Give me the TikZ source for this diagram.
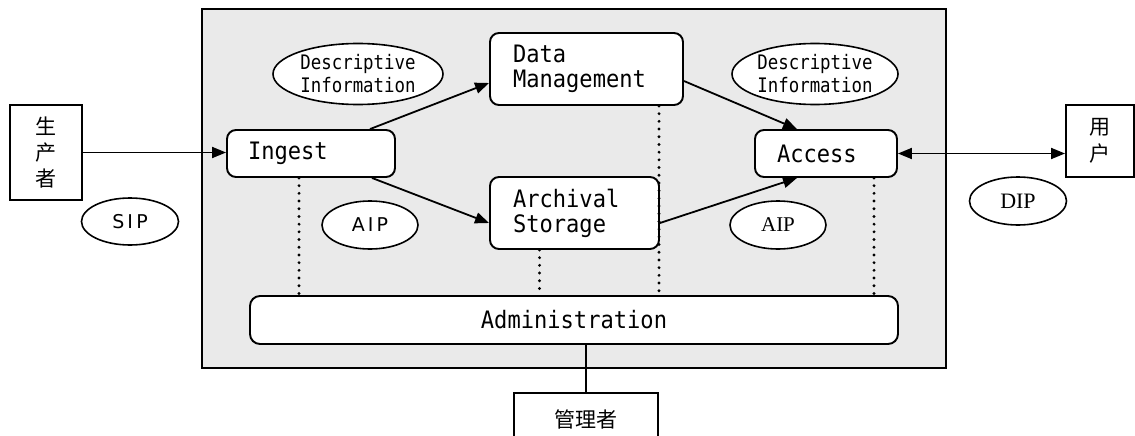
\documentclass[tikz,border=0pt]{standalone}
\usepackage{fontspec}
\newfontfamily\cjk{Noto Sans CJK SC}
\newfontfamily\monof[FakeStretch=0.92]{DejaVu Sans Mono}
\newfontfamily\monon[FakeStretch=0.87]{DejaVu Sans Mono}
\newfontfamily\sansf{DejaVu Sans}
\newfontfamily\seriff{Liberation Serif}
\usetikzlibrary{arrows.meta,shapes.geometric,calc}
\definecolor{panelgray}{RGB}{234,234,234}
\tikzset{
  box/.style={draw=black, line width=1.9pt, fill=white, rounded corners=9pt, align=left, inner ysep=0pt, font=\monof\fontsize{24}{25}\selectfont},
  plainbox/.style={draw=black, line width=1.9pt, fill=white, inner sep=0pt, align=center},
  oval/.style={draw=black, line width=1.6pt, fill=white, ellipse, inner sep=0pt},
  flow/.style={line width=1.8pt, -{Triangle[length=14pt,width=11pt]}},
  biflow/.style={line width=1.8pt, {Triangle[length=14pt,width=11pt]}-{Triangle[length=14pt,width=11pt]}},
  dots/.style={line width=3.2pt, line cap=round, dash pattern=on 0pt off 7.7pt},
  thinline/.style={line width=1.2pt}
}
\begin{document}
\begin{tikzpicture}[x=1pt,y=-1pt]
\useasboundingbox (0,0) rectangle (1135,436);
% panel
\node[draw=black, line width=1.6pt, fill=panelgray, minimum width=744pt, minimum height=359pt, inner sep=0pt] (panel) at (574,188.5) {};
% processes
\node[box, minimum width=168pt, minimum height=47pt, text width=126pt, inner xsep=21pt] (ingest) at (311,153.5) {Ingest};
\node[box, minimum width=193pt, minimum height=72pt, text width=147pt, inner xsep=23pt] (dm) at (586.5,69) {Data\\Management};
\node[box, minimum width=169pt, minimum height=72pt, text width=123pt, inner xsep=23pt] (as) at (574.5,213) {Archival\\Storage};
\node[box, minimum width=142pt, minimum height=47pt, text width=98pt, inner xsep=22pt] (access) at (826,153.5) {Access};
\node[box, align=center, minimum width=648pt, minimum height=48pt, rounded corners=10pt] (admin) at (574,320) {Administration};
% ovals
\node[oval, minimum width=170pt, minimum height=61pt, align=center, font=\monon\fontsize{20}{23}\selectfont] (di1) at (358,74) {Descriptive\\Information};
\node[oval, minimum width=166pt, minimum height=61pt, align=center, font=\monon\fontsize{20}{23}\selectfont] (di2) at (815,74) {Descriptive\\Information};
\node[oval, minimum width=97pt, minimum height=47pt, font=\sansf\fontsize{19}{20}\selectfont] (sip) at (130,221.5) {S\,I\,P};
\node[oval, minimum width=96pt, minimum height=48pt, font=\sansf\fontsize{19}{20}\selectfont] (aip1) at (370,225) {A\,I\,P};
\node[oval, minimum width=96pt, minimum height=48pt, font=\seriff\fontsize{21}{22}\selectfont] (aip2) at (778,225) {AIP};
\node[oval, minimum width=97pt, minimum height=48pt, font=\seriff\fontsize{22}{22}\selectfont] (dip) at (1018,201) {DIP};
% actors
\node[plainbox, minimum width=72pt, minimum height=95pt, font=\cjk\fontsize{21}{26}\selectfont] (prod) at (46,152.5) {生\\产\\者};
\node[plainbox, minimum width=68pt, minimum height=72pt, font=\cjk\fontsize{21}{27}\selectfont] (user) at (1100,141) {用\\户};
\node[plainbox, minimum width=144pt, minimum height=52pt, font=\cjk\fontsize{21}{24}\selectfont] (mgr) at (586,419) {管理者};
% flows
\draw[flow] (prod.east) -- (prod.east -| ingest.west);
\draw[flow] ([xshift=59pt]ingest.north) -- ([yshift=-14pt]dm.west);
\draw[flow] ([xshift=61pt]ingest.south) -- ([yshift=-10pt]as.west);
\draw[flow] ([yshift=-12pt]dm.east) -- ([xshift=-29pt]access.north);
\draw[flow] ([yshift=-10pt]as.east) -- ([xshift=-29pt]access.south);
\draw[biflow] (access.east) -- (access.east -| user.west);
% dotted links to administration
\draw[dots] ([xshift=-12pt]ingest.south) -- ([xshift=-12pt]ingest.south |- admin.north);
\draw[dots] ([xshift=-35pt]as.south) -- ([xshift=-35pt]as.south |- admin.north);
\draw[dots] ([xshift=72.5pt]dm.south) -- ([xshift=72.5pt]dm.south |- admin.north);
\draw[dots] ([xshift=48pt]access.south) -- ([xshift=48pt]access.south |- admin.north);
% manager link
\draw[thinline] (mgr.north |- admin.south) -- (mgr.north);
\end{tikzpicture}
\end{document}
